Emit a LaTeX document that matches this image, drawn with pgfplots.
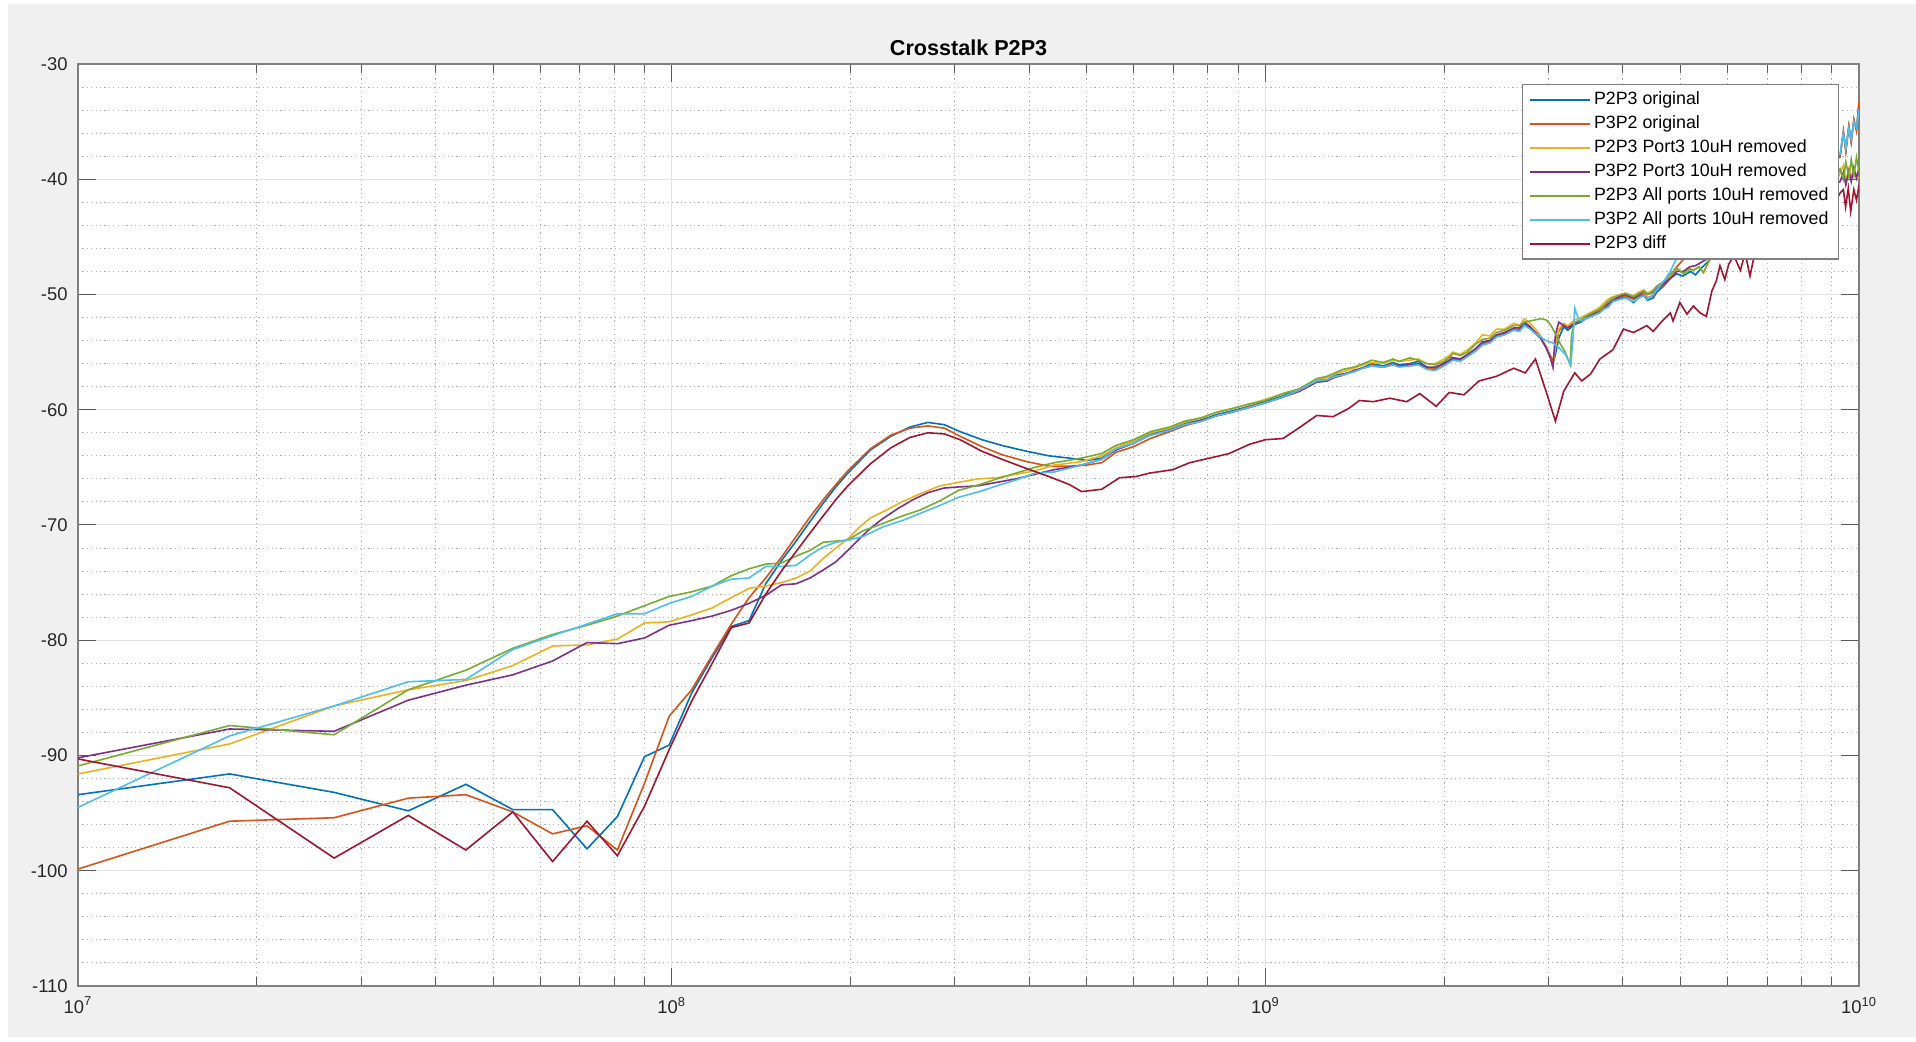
\documentclass[border=0pt]{standalone}
\usepackage{fontspec}
\setmainfont{Liberation Sans}
\usepackage{pgfplots}
\pgfplotsset{compat=1.18}
\usetikzlibrary{calc,backgrounds}
\definecolor{c1}{RGB}{0,114,189}
\definecolor{c2}{RGB}{217,83,25}
\definecolor{c3}{RGB}{237,177,32}
\definecolor{c4}{RGB}{126,47,142}
\definecolor{c5}{RGB}{119,172,48}
\definecolor{c6}{RGB}{77,190,238}
\definecolor{c7}{RGB}{162,20,47}
\definecolor{figbg}{RGB}{240,240,240}
\newcommand\ls{\rule[-1.9pt]{0pt}{8.4pt}}
\begin{document}
\begin{tikzpicture}
\begin{axis}[
  name=ax,
  scale only axis,
  width=890.5pt, height=461pt,
  xmode=log,
  xmin=1e7, xmax=1e10, ymin=-110, ymax=-30,
  xtick={1e7,1e8,1e9,1e10},
  xticklabels={10\textsuperscript{7},10\textsuperscript{8},10\textsuperscript{9},10\textsuperscript{10}},
  minor xtick={2e7,3e7,4e7,5e7,6e7,7e7,8e7,9e7,2e8,3e8,4e8,5e8,6e8,7e8,8e8,9e8,2e9,3e9,4e9,5e9,6e9,7e9,8e9,9e9},
  ytick={-110,-100,-90,-80,-70,-60,-50,-40,-30},
  yticklabels={-110,-100,-90,-80,-70,-60,-50,-40,-30},
  minor y tick num=4,
  grid=both,
  major grid style={color=black!11, line width=0.5pt},
  minor grid style={color=black!30, line width=0.5pt, dash pattern=on 0.6pt off 1.6pt},
  tick align=inside,
  major tick length=8.9pt, minor tick length=4.5pt,
  tick style={color=black!65, line width=0.5pt},
  minor y tick style={draw=none},
  axis line style={color=black!50, line width=0.6pt},
  axis background/.style={fill=white},
  tick label style={font=\fontsize{9.2}{11}\selectfont, color=black!85},
  yticklabel style={xshift=-1.7pt},
  xticklabel style={yshift=-2pt},
  title={Crosstalk P2P3},
  title style={font=\fontsize{10.8}{13}\selectfont\bfseries, at={(0.5,1)}, anchor=south, inner sep=1pt, yshift=-3.1pt},
  legend style={at={(1,1)}, anchor=north east, xshift=-10pt, yshift=-10pt,
    draw=black!50, line width=0.6pt, fill=white,
    font=\fontsize{8.9}{10}\selectfont, inner xsep=3.25pt, inner ysep=2.1pt,
    row sep=1pt, nodes={inner xsep=1.7pt, inner ysep=1.5pt}},
  legend cell align=left,
  legend image code/.code={\draw[#1, line width=0.8pt] (0pt,0pt) -- (30pt,0pt);},
  every axis plot/.append style={line width=0.8pt},
]
% P2P3 original
\addplot[c1] coordinates {
(1e7,-93.4)(1.8e7,-91.6)(2.7e7,-93.2)(3.6e7,-94.8)(4.5e7,-92.5)(5.4e7,-94.7)(6.3e7,-94.7)(7.2e7,-98.1)(8.1e7,-95.3)(9.0e7,-90.1)(9.9e7,-89.1)
(1.08e8,-84.6)(1.17e8,-81.5)(1.26e8,-78.8)(1.35e8,-78.3)(1.44e8,-75.1)(1.53e8,-73.1)(1.62e8,-71.4)(1.71e8,-69.7)(1.80e8,-68.1)(1.89e8,-66.7)(1.98e8,-65.5)(2.16e8,-63.5)(2.34e8,-62.3)(2.52e8,-61.5)(2.70e8,-61.1)(2.88e8,-61.3)(3.06e8,-61.9)(3.33e8,-62.6)(3.60e8,-63.1)(3.96e8,-63.6)(4.32e8,-64.0)(4.68e8,-64.2)
(5.0e8,-64.4)(5.3e8,-64.2)(5.6e8,-63.4)(6.0e8,-62.9)(6.4e8,-62.1)(6.9e8,-61.7)(7.3e8,-61.2)(7.8e8,-60.9)(8.3e8,-60.4)(8.8e8,-60.1)(9.4e8,-59.7)(1.0e9,-59.3)(1.07e9,-58.8)(1.14e9,-58.2)(1.22e9,-57.4)(1.27e9,-57.4)(1.31e9,-57.0)(1.35e9,-56.9)(1.41e9,-56.7)(1.48e9,-56.2)(1.51e9,-56.0)(1.58e9,-56.2)(1.64e9,-55.9)(1.68e9,-56.1)(1.75e9,-56.0)(1.81e9,-55.8)(1.87e9,-56.3)(1.93e9,-56.5)(2.0e9,-55.9)(2.04e9,-55.4)(2.07e9,-55.5)(2.13e9,-55.6)(2.19e9,-55.3)(2.26e9,-54.9)(2.32e9,-54.2)(2.39e9,-54.0)(2.45e9,-53.6)(2.53e9,-53.4)(2.62e9,-53.0)(2.68e9,-53.1)(2.73e9,-52.5)(2.79e9,-52.9)(2.85e9,-53.4)(2.91e9,-53.8)(2.97e9,-54.6)(3.02e9,-55.4)(3.05e9,-56.0)(3.08e9,-55.2)(3.12e9,-53.8)(3.18e9,-52.8)(3.23e9,-53.1)(3.32e9,-52.6)(3.40e9,-52.4)(3.46e9,-52.1)(3.58e9,-51.8)(3.66e9,-51.5)(3.71e9,-51.2)(3.78e9,-51.0)(3.85e9,-50.6)(3.97e9,-50.3)(4.04e9,-50.2)(4.17e9,-50.7)(4.26e9,-50.2)(4.34e9,-50.1)(4.40e9,-50.5)(4.50e9,-50.3)(4.56e9,-49.8)(4.68e9,-49.3)(4.81e9,-48.6)(4.93e9,-48.2)(5.05e9,-48.4)(5.20e9,-48.0)(5.30e9,-48.3)(5.45e9,-47.6)(5.60e9,-47.0)(6.0e9,-45.5)(6.5e9,-44.0)(7.0e9,-42.8)(7.5e9,-41.5)(8.0e9,-40.3)(8.5e9,-39.2)(9.0e9,-38.3)(9.29e9,-38.0)(9.41e9,-35.9)(9.50e9,-37.5)(9.61e9,-35.4)(9.70e9,-36.7)(9.80e9,-34.9)(9.90e9,-35.7)(1e10,-33.4)
};
\addlegendentry{\ls P2P3 original}
% P3P2 original
\addplot[c2] coordinates {
(1e7,-99.85)(1.8e7,-95.7)(2.7e7,-95.4)(3.6e7,-93.7)(4.5e7,-93.4)(5.4e7,-94.9)(6.3e7,-96.8)(7.2e7,-96.1)(8.1e7,-98.2)(9.0e7,-92.4)(9.9e7,-86.6)
(1.08e8,-84.3)(1.17e8,-81.3)(1.26e8,-78.6)(1.35e8,-76.3)(1.44e8,-74.6)(1.53e8,-72.8)(1.62e8,-71.0)(1.71e8,-69.3)(1.80e8,-67.8)(1.89e8,-66.5)(1.98e8,-65.3)(2.16e8,-63.4)(2.34e8,-62.2)(2.52e8,-61.6)(2.70e8,-61.4)(2.88e8,-61.6)(3.06e8,-62.3)(3.33e8,-63.2)(3.60e8,-63.9)(3.96e8,-64.5)(4.32e8,-64.9)(4.68e8,-64.9)
(5.0e8,-64.8)(5.3e8,-64.6)(5.6e8,-63.7)(6.0e8,-63.2)(6.4e8,-62.5)(6.9e8,-61.9)(7.3e8,-61.4)(7.8e8,-61.0)(8.3e8,-60.5)(8.8e8,-60.2)(9.4e8,-59.7)(1.0e9,-59.4)(1.07e9,-58.9)(1.14e9,-58.4)(1.22e9,-57.6)(1.27e9,-57.5)(1.31e9,-57.2)(1.35e9,-57.0)(1.41e9,-56.6)(1.48e9,-56.3)(1.51e9,-56.1)(1.58e9,-56.3)(1.64e9,-56.0)(1.68e9,-56.2)(1.75e9,-56.2)(1.81e9,-56.0)(1.87e9,-56.4)(1.93e9,-56.4)(2.0e9,-56.1)(2.04e9,-55.8)(2.07e9,-55.6)(2.13e9,-55.7)(2.19e9,-55.3)(2.26e9,-54.8)(2.32e9,-54.3)(2.39e9,-54.1)(2.45e9,-53.6)(2.53e9,-53.3)(2.62e9,-53.0)(2.68e9,-53.0)(2.73e9,-52.4)(2.79e9,-52.8)(2.85e9,-53.3)(2.91e9,-53.7)(2.97e9,-54.5)(3.02e9,-55.3)(3.05e9,-55.8)(3.08e9,-54.6)(3.12e9,-53.2)(3.18e9,-52.6)(3.23e9,-52.9)(3.32e9,-52.4)(3.40e9,-52.3)(3.46e9,-52.1)(3.58e9,-51.7)(3.66e9,-51.4)(3.71e9,-51.1)(3.78e9,-50.9)(3.85e9,-50.5)(3.97e9,-50.2)(4.04e9,-50.1)(4.17e9,-50.4)(4.26e9,-50.1)(4.34e9,-50.0)(4.40e9,-50.3)(4.50e9,-50.1)(4.56e9,-49.6)(4.68e9,-49.2)(4.81e9,-48.3)(4.93e9,-47.6)(5.05e9,-47.0)(5.3e9,-46.5)(5.6e9,-45.8)(6.0e9,-44.9)(6.5e9,-43.8)(7.0e9,-42.6)(7.5e9,-41.5)(8.0e9,-40.3)(8.5e9,-39.2)(9.0e9,-38.3)(9.29e9,-38.1)(9.41e9,-35.8)(9.50e9,-37.6)(9.61e9,-35.4)(9.70e9,-36.8)(9.80e9,-34.8)(9.90e9,-35.8)(1e10,-33.2)
};
\addlegendentry{\ls P3P2 original}
% P2P3 Port3 10uH removed
\addplot[c3] coordinates {
(1e7,-91.6)(1.8e7,-89.0)(2.7e7,-85.7)(3.6e7,-84.3)(4.5e7,-83.5)(5.4e7,-82.2)(6.3e7,-80.5)(7.2e7,-80.4)(8.1e7,-79.9)(9.0e7,-78.5)(9.9e7,-78.4)
(1.08e8,-77.8)(1.17e8,-77.2)(1.26e8,-76.3)(1.35e8,-75.5)(1.44e8,-75.3)(1.53e8,-75.0)(1.62e8,-74.6)(1.71e8,-74.0)(1.80e8,-72.9)(1.89e8,-72.0)(1.98e8,-71.2)(2.07e8,-70.2)(2.16e8,-69.4)(2.30e8,-68.7)(2.44e8,-68.0)(2.62e8,-67.3)(2.83e8,-66.6)(3.04e8,-66.3)(3.28e8,-66.0)(3.53e8,-65.9)(3.80e8,-65.6)(4.09e8,-65.3)(4.41e8,-64.8)(4.9e8,-64.5)
(5.3e8,-64.0)(5.6e8,-63.3)(6.0e8,-62.7)(6.4e8,-62.0)(6.9e8,-61.6)(7.3e8,-61.1)(7.8e8,-60.7)(8.3e8,-60.2)(8.8e8,-59.9)(9.4e8,-59.5)(1.0e9,-59.1)(1.07e9,-58.6)(1.14e9,-58.2)(1.22e9,-57.4)(1.27e9,-57.2)(1.31e9,-56.9)(1.35e9,-56.7)(1.41e9,-56.4)(1.48e9,-56.0)(1.51e9,-55.9)(1.58e9,-56.0)(1.64e9,-55.7)(1.68e9,-55.8)(1.75e9,-55.7)(1.81e9,-55.6)(1.87e9,-56.0)(1.93e9,-56.0)(2.0e9,-55.6)(2.04e9,-55.3)(2.07e9,-55.0)(2.13e9,-55.2)(2.19e9,-54.8)(2.26e9,-54.2)(2.32e9,-53.5)(2.39e9,-53.6)(2.45e9,-53.0)(2.53e9,-53.0)(2.62e9,-52.5)(2.68e9,-52.7)(2.73e9,-52.1)(2.79e9,-52.5)(2.85e9,-53.0)(2.91e9,-53.6)(2.97e9,-54.5)(3.02e9,-55.5)(3.05e9,-56.3)(3.08e9,-54.5)(3.12e9,-53.0)(3.18e9,-52.5)(3.23e9,-52.7)(3.32e9,-52.2)(3.40e9,-52.0)(3.46e9,-51.8)(3.58e9,-51.4)(3.66e9,-51.1)(3.71e9,-50.8)(3.78e9,-50.4)(3.85e9,-50.2)(3.97e9,-50.0)(4.04e9,-49.9)(4.17e9,-50.1)(4.26e9,-49.8)(4.34e9,-49.6)(4.40e9,-49.9)(4.50e9,-49.6)(4.56e9,-49.3)(4.68e9,-48.9)(4.81e9,-48.4)(4.93e9,-47.8)(5.06e9,-48.1)(5.18e9,-47.7)(5.26e9,-47.9)(5.38e9,-47.6)(5.47e9,-48.1)(5.6e9,-47.0)(6.0e9,-46.2)(6.5e9,-45.3)(7.0e9,-44.4)(7.5e9,-43.5)(8.0e9,-42.6)(8.5e9,-41.8)(9.0e9,-40.8)(9.29e9,-39.5)(9.41e9,-38.8)(9.50e9,-40.1)(9.61e9,-39.1)(9.70e9,-39.8)(9.80e9,-39.2)(9.90e9,-40.0)(1e10,-39.8)
};
\addlegendentry{\ls P2P3 Port3 10uH removed}
% P3P2 Port3 10uH removed
\addplot[c4] coordinates {
(1e7,-90.2)(1.8e7,-87.7)(2.7e7,-87.9)(3.6e7,-85.2)(4.5e7,-83.9)(5.4e7,-83.0)(6.3e7,-81.8)(7.2e7,-80.2)(8.1e7,-80.3)(9.0e7,-79.8)(9.9e7,-78.7)
(1.08e8,-78.3)(1.17e8,-77.9)(1.26e8,-77.4)(1.35e8,-76.8)(1.44e8,-76.1)(1.53e8,-75.2)(1.62e8,-75.1)(1.71e8,-74.6)(1.80e8,-73.9)(1.89e8,-73.2)(1.98e8,-72.2)(2.07e8,-71.2)(2.16e8,-70.3)(2.26e8,-69.5)(2.40e8,-68.6)(2.55e8,-67.8)(2.70e8,-67.2)(2.87e8,-66.8)(3.04e8,-66.7)(3.28e8,-66.6)(3.53e8,-66.3)(3.80e8,-66.0)(4.09e8,-65.6)(4.41e8,-65.2)(4.9e8,-64.8)
(5.3e8,-64.3)(5.6e8,-63.5)(6.0e8,-62.9)(6.4e8,-62.2)(6.9e8,-61.8)(7.3e8,-61.3)(7.8e8,-60.9)(8.3e8,-60.5)(8.8e8,-60.2)(9.4e8,-59.8)(1.0e9,-59.4)(1.07e9,-58.9)(1.14e9,-58.4)(1.22e9,-57.6)(1.27e9,-57.5)(1.31e9,-57.1)(1.35e9,-57.0)(1.41e9,-56.6)(1.48e9,-56.3)(1.51e9,-56.2)(1.58e9,-56.3)(1.64e9,-56.1)(1.68e9,-56.2)(1.75e9,-56.1)(1.81e9,-56.0)(1.87e9,-56.3)(1.93e9,-56.3)(2.0e9,-56.0)(2.04e9,-55.7)(2.07e9,-55.5)(2.13e9,-55.6)(2.19e9,-55.2)(2.26e9,-54.7)(2.32e9,-54.1)(2.39e9,-54.0)(2.45e9,-53.5)(2.53e9,-53.3)(2.62e9,-52.9)(2.68e9,-52.9)(2.73e9,-52.4)(2.79e9,-52.8)(2.85e9,-53.3)(2.91e9,-53.8)(2.97e9,-54.6)(3.02e9,-55.5)(3.05e9,-56.3)(3.08e9,-53.5)(3.12e9,-52.4)(3.18e9,-52.7)(3.23e9,-52.9)(3.32e9,-52.5)(3.40e9,-52.2)(3.46e9,-52.0)(3.58e9,-51.6)(3.66e9,-51.3)(3.71e9,-51.0)(3.78e9,-50.8)(3.85e9,-50.5)(3.97e9,-50.1)(4.04e9,-50.0)(4.17e9,-50.3)(4.26e9,-50.0)(4.34e9,-49.8)(4.40e9,-50.0)(4.50e9,-49.8)(4.56e9,-49.5)(4.68e9,-49.1)(4.81e9,-48.6)(4.93e9,-48.0)(5.06e9,-48.0)(5.18e9,-47.6)(5.3e9,-47.5)(5.6e9,-46.8)(6.0e9,-46.0)(6.5e9,-45.0)(7.0e9,-44.1)(7.5e9,-43.2)(8.0e9,-42.3)(8.5e9,-41.5)(9.0e9,-40.6)(9.29e9,-40.2)(9.41e9,-39.4)(9.50e9,-40.5)(9.61e9,-39.3)(9.70e9,-40.2)(9.80e9,-39.0)(9.90e9,-39.9)(1e10,-39.0)
};
\addlegendentry{\ls P3P2 Port3 10uH removed}
% P2P3 All ports 10uH removed
\addplot[c5] coordinates {
(1e7,-90.9)(1.8e7,-87.4)(2.7e7,-88.2)(3.6e7,-84.3)(4.5e7,-82.6)(5.4e7,-80.7)(6.3e7,-79.5)(7.2e7,-78.7)(8.1e7,-77.9)(9.0e7,-77.0)(9.9e7,-76.2)
(1.08e8,-75.8)(1.17e8,-75.3)(1.26e8,-74.4)(1.35e8,-73.8)(1.44e8,-73.4)(1.53e8,-73.3)(1.62e8,-72.7)(1.71e8,-72.2)(1.80e8,-71.5)(1.89e8,-71.4)(1.98e8,-71.3)(2.10e8,-70.5)(2.26e8,-69.9)(2.45e8,-69.2)(2.62e8,-68.7)(2.83e8,-67.9)(3.04e8,-67.0)(3.30e8,-66.5)(3.53e8,-66.0)(3.80e8,-65.5)(4.09e8,-65.0)(4.41e8,-64.6)(4.9e8,-64.2)
(5.3e8,-63.8)(5.6e8,-63.1)(6.0e8,-62.6)(6.4e8,-61.9)(6.9e8,-61.5)(7.3e8,-61.0)(7.8e8,-60.7)(8.3e8,-60.2)(8.8e8,-59.9)(9.4e8,-59.5)(1.0e9,-59.2)(1.07e9,-58.6)(1.14e9,-58.2)(1.22e9,-57.3)(1.27e9,-57.1)(1.31e9,-56.8)(1.35e9,-56.5)(1.41e9,-56.3)(1.48e9,-55.9)(1.51e9,-55.7)(1.58e9,-55.9)(1.64e9,-55.6)(1.68e9,-55.8)(1.75e9,-55.5)(1.81e9,-55.7)(1.87e9,-56.0)(1.93e9,-56.1)(2.0e9,-55.8)(2.04e9,-55.5)(2.07e9,-55.1)(2.13e9,-55.3)(2.19e9,-55.0)(2.26e9,-54.3)(2.32e9,-53.9)(2.39e9,-53.8)(2.45e9,-53.3)(2.53e9,-53.1)(2.62e9,-52.7)(2.68e9,-52.7)(2.73e9,-52.4)(2.79e9,-52.3)(2.85e9,-52.2)(2.91e9,-52.1)(2.97e9,-52.2)(3.02e9,-52.6)(3.08e9,-53.4)(3.14e9,-54.3)(3.20e9,-55.0)(3.26e9,-56.1)(3.28e9,-53.5)(3.32e9,-52.4)(3.40e9,-52.2)(3.46e9,-51.9)(3.58e9,-51.5)(3.66e9,-51.3)(3.71e9,-51.0)(3.78e9,-50.6)(3.85e9,-50.3)(3.97e9,-50.0)(4.04e9,-49.9)(4.17e9,-50.2)(4.26e9,-49.9)(4.34e9,-49.7)(4.40e9,-50.0)(4.50e9,-49.7)(4.56e9,-49.3)(4.68e9,-48.9)(4.81e9,-48.3)(4.93e9,-47.7)(5.06e9,-48.2)(5.18e9,-47.8)(5.26e9,-47.9)(5.38e9,-47.6)(5.47e9,-48.1)(5.6e9,-47.0)(6.0e9,-46.3)(6.5e9,-45.4)(7.0e9,-44.5)(7.5e9,-43.6)(8.0e9,-42.7)(8.5e9,-41.8)(9.0e9,-40.7)(9.29e9,-39.1)(9.41e9,-40.0)(9.50e9,-38.5)(9.61e9,-39.8)(9.70e9,-38.3)(9.80e9,-39.7)(9.90e9,-38.1)(1e10,-39.4)
};
\addlegendentry{\ls P2P3 All ports 10uH removed}
% P3P2 All ports 10uH removed
\addplot[c6] coordinates {
(1e7,-94.5)(1.8e7,-88.3)(2.7e7,-85.7)(3.6e7,-83.6)(4.5e7,-83.4)(5.4e7,-80.8)(6.3e7,-79.6)(7.2e7,-78.6)(8.1e7,-77.7)(9.0e7,-77.7)(9.9e7,-76.8)
(1.08e8,-76.2)(1.17e8,-75.3)(1.26e8,-74.7)(1.35e8,-74.6)(1.44e8,-73.6)(1.53e8,-73.6)(1.62e8,-73.5)(1.71e8,-72.6)(1.80e8,-71.9)(1.89e8,-71.5)(1.98e8,-71.3)(2.10e8,-71.0)(2.26e8,-70.2)(2.45e8,-69.6)(2.62e8,-69.0)(2.83e8,-68.3)(3.04e8,-67.6)(3.30e8,-67.1)(3.53e8,-66.6)(3.80e8,-66.1)(4.09e8,-65.5)(4.41e8,-65.4)(4.9e8,-64.8)
(5.3e8,-64.3)(5.6e8,-63.4)(6.0e8,-62.9)(6.4e8,-62.2)(6.9e8,-61.8)(7.3e8,-61.3)(7.8e8,-61.0)(8.3e8,-60.5)(8.8e8,-60.2)(9.4e8,-59.8)(1.0e9,-59.4)(1.07e9,-58.9)(1.14e9,-58.3)(1.22e9,-57.5)(1.27e9,-57.4)(1.31e9,-57.1)(1.35e9,-57.0)(1.41e9,-56.7)(1.48e9,-56.3)(1.51e9,-56.2)(1.58e9,-56.3)(1.64e9,-56.1)(1.68e9,-56.3)(1.75e9,-56.2)(1.81e9,-56.1)(1.87e9,-56.5)(1.93e9,-56.6)(2.0e9,-56.2)(2.04e9,-55.9)(2.07e9,-55.7)(2.13e9,-55.8)(2.19e9,-55.4)(2.26e9,-54.9)(2.32e9,-54.4)(2.39e9,-54.2)(2.45e9,-53.7)(2.53e9,-53.5)(2.62e9,-53.1)(2.68e9,-53.2)(2.73e9,-52.7)(2.79e9,-53.0)(2.85e9,-53.4)(2.91e9,-53.7)(2.97e9,-54.0)(3.05e9,-54.2)(3.12e9,-54.6)(3.20e9,-55.2)(3.27e9,-56.1)(3.30e9,-53.5)(3.32e9,-51.2)(3.36e9,-52.0)(3.40e9,-52.3)(3.46e9,-52.1)(3.58e9,-51.8)(3.66e9,-51.6)(3.71e9,-51.3)(3.78e9,-51.1)(3.85e9,-50.6)(3.97e9,-50.4)(4.04e9,-50.3)(4.17e9,-50.6)(4.26e9,-50.3)(4.34e9,-50.1)(4.40e9,-50.4)(4.50e9,-50.0)(4.56e9,-49.6)(4.68e9,-48.9)(4.81e9,-48.0)(4.90e9,-47.1)(5.05e9,-46.3)(5.3e9,-45.8)(5.6e9,-45.1)(6.0e9,-44.3)(6.5e9,-43.3)(7.0e9,-42.2)(7.5e9,-41.2)(8.0e9,-40.1)(8.5e9,-39.1)(9.0e9,-38.2)(9.29e9,-37.8)(9.41e9,-36.0)(9.50e9,-37.3)(9.61e9,-35.6)(9.70e9,-36.5)(9.80e9,-35.0)(9.90e9,-35.5)(1e10,-34.0)
};
\addlegendentry{\ls P3P2 All ports 10uH removed}
% P2P3 diff
\addplot[c7] coordinates {
(1e7,-90.3)(1.8e7,-92.8)(2.7e7,-98.9)(3.6e7,-95.2)(4.5e7,-98.2)(5.4e7,-94.9)(6.3e7,-99.2)(7.2e7,-95.7)(8.1e7,-98.7)(9.0e7,-94.4)(9.9e7,-89.5)
(1.08e8,-85.3)(1.17e8,-82.0)(1.26e8,-78.9)(1.35e8,-78.5)(1.44e8,-76.0)(1.53e8,-74.0)(1.62e8,-72.3)(1.71e8,-70.7)(1.80e8,-69.2)(1.89e8,-67.8)(1.98e8,-66.6)(2.16e8,-64.7)(2.34e8,-63.3)(2.52e8,-62.4)(2.70e8,-62.0)(2.88e8,-62.1)(3.06e8,-62.6)(3.33e8,-63.6)(3.60e8,-64.3)(3.96e8,-65.1)(4.32e8,-65.8)(4.68e8,-66.5)(4.9e8,-67.1)
(5.3e8,-66.9)(5.68e8,-65.9)(6.05e8,-65.8)(6.38e8,-65.5)(6.98e8,-65.2)(7.45e8,-64.6)(8.05e8,-64.2)(8.69e8,-63.8)(9.4e8,-63.0)(1.0e9,-62.6)(1.07e9,-62.5)(1.13e9,-61.7)(1.22e9,-60.5)(1.30e9,-60.6)(1.38e9,-59.9)(1.44e9,-59.2)(1.52e9,-59.3)(1.62e9,-59.0)(1.73e9,-59.3)(1.82e9,-58.6)(1.94e9,-59.7)(2.04e9,-58.5)(2.16e9,-58.7)(2.29e9,-57.5)(2.45e9,-57.1)(2.62e9,-56.4)(2.74e9,-56.8)(2.85e9,-55.6)(2.97e9,-58.4)(3.08e9,-61.0)(3.18e9,-58.4)(3.32e9,-56.8)(3.41e9,-57.5)(3.53e9,-56.9)(3.66e9,-55.6)(3.85e9,-54.8)(4.01e9,-53.0)(4.17e9,-53.3)(4.39e9,-52.7)(4.50e9,-53.2)(4.66e9,-52.3)(4.81e9,-51.6)(4.86e9,-52.3)(4.99e9,-50.7)(5.13e9,-51.7)(5.26e9,-51.0)(5.40e9,-51.6)(5.53e9,-51.9)(5.65e9,-49.7)(5.75e9,-48.8)(5.83e9,-47.5)(5.94e9,-48.7)(6.03e9,-47.4)(6.15e9,-46.6)(6.31e9,-47.9)(6.43e9,-46.4)(6.55e9,-48.4)(6.7e9,-46.0)(7.2e9,-45.5)(7.8e9,-44.5)(8.5e9,-43.5)(9.0e9,-42.5)(9.29e9,-41.2)(9.41e9,-40.9)(9.49e9,-42.4)(9.59e9,-40.8)(9.68e9,-42.8)(9.80e9,-40.9)(9.90e9,-41.8)(1e10,-40.5)
};
\addlegendentry{\ls P2P3 diff}
\end{axis}
\begin{scope}[on background layer]
\fill[white] ($(ax.south west)+(-39pt,-27.5pt)$) rectangle ($(ax.north east)+(28.5pt,32pt)$);
\fill[figbg] ($(ax.south west)+(-35pt,-25.5pt)$) rectangle ($(ax.north east)+(28.5pt,30pt)$);
\end{scope}
\end{tikzpicture}
\end{document}
